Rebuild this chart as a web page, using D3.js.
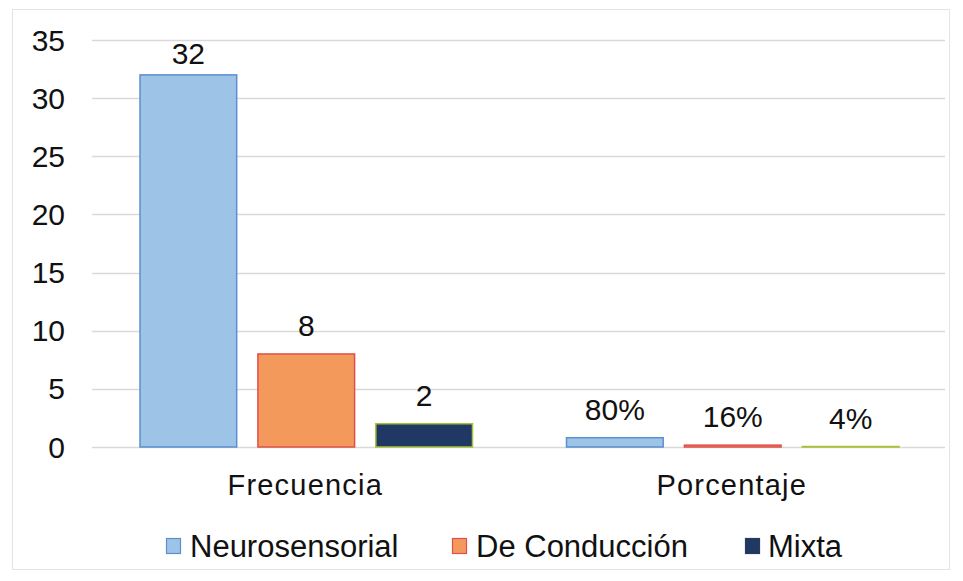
<!DOCTYPE html>
<html>
<head>
<meta charset="utf-8">
<script src="https://cdn.jsdelivr.net/npm/d3@7"></script>
<style>
  body { margin: 0; background: #fff; }
  text { font-family: "Liberation Sans", Arial, sans-serif; fill: #111; }
</style>
</head>
<body>
<div id="chart"></div>
<script>
// Data
const categories = ["Frecuencia", "Porcentaje"]
const seriesNames = ["Neurosensorial", "De Conducción", "Mixta"]
const frecuencia = [32, 8, 2]
const porcentaje = [0.80, 0.16, 0.04]
const porcentajeLabels = ["80%", "16%", "4%"]
const yTicks = [0, 5, 10, 15, 20, 25, 30, 35]

const WIDTH = 963, HEIGHT = 581
const PLOT = {LEFT: 92, RIGHT: 945, TOP: 40, BOTTOM: 447}
const FILL = ["#9dc3e6", "#f4995c", "#203864"]
const STROKE = ["#5b8fd0", "#e0504a", "#a9c03a"]

const rows = [
  {cat: "Frecuencia", values: frecuencia, labels: frecuencia.map(String)},
  {cat: "Porcentaje", values: porcentaje, labels: porcentajeLabels}
]

const svg = d3.select("#chart").append("svg")
  .attr("width", WIDTH)
  .attr("height", HEIGHT)

// outer frame
svg.append("rect")
  .attr("x", 12.5).attr("y", 9.5)
  .attr("width", 937).attr("height", 560)
  .attr("fill", "none").attr("stroke", "#e4e4e4")

const x0 = d3.scaleBand().domain(categories).range([PLOT.LEFT, PLOT.RIGHT])
const x1 = d3.scaleBand().domain(seriesNames).range([48, x0.bandwidth() - 46]).paddingInner(0.18)
const y = d3.scaleLinear().domain([0, 35]).range([PLOT.BOTTOM, PLOT.TOP])

// gridlines
svg.append("g")
  .selectAll("line")
  .data(yTicks)
  .join("line")
    .attr("x1", PLOT.LEFT).attr("x2", PLOT.RIGHT)
    .attr("y1", d => Math.round(y(d)) + 0.5).attr("y2", d => Math.round(y(d)) + 0.5)
    .attr("stroke", "#d9d9d9").attr("stroke-width", 1.3)

// y tick labels
svg.append("g")
  .selectAll("text")
  .data(yTicks)
  .join("text")
    .attr("x", 65).attr("y", d => y(d))
    .attr("dy", "0.35em")
    .attr("text-anchor", "end")
    .style("font-size", "30px")
    .text(d => d)

// bars
const groups = svg.append("g")
  .selectAll("g")
  .data(rows)
  .join("g")
    .attr("transform", d => `translate(${x0(d.cat)},0)`)

const items = d => d.values.map((v, i) => ({v, i, label: d.labels[i]}))

groups.selectAll("rect")
  .data(items)
  .join("rect")
    .attr("x", d => x1(seriesNames[d.i]))
    .attr("y", d => y(d.v))
    .attr("width", x1.bandwidth())
    .attr("height", d => y(0) - y(d.v))
    .attr("fill", d => FILL[d.i])
    .attr("stroke", d => STROKE[d.i])
    .attr("stroke-width", 1.5)

// data labels, kept inside the plot area at the top
groups.selectAll("text.lbl")
  .data(items)
  .join("text")
    .attr("class", "lbl")
    .attr("x", d => x1(seriesNames[d.i]) + x1.bandwidth() / 2)
    .attr("y", d => Math.max(y(d.v) - 18, 64))
    .attr("text-anchor", "middle")
    .style("font-size", "30px")
    .text(d => d.label)

// category labels
svg.append("g")
  .selectAll("text")
  .data(categories)
  .join("text")
    .attr("x", d => x0(d) + x0.bandwidth() / 2)
    .attr("y", 495)
    .attr("text-anchor", "middle")
    .style("font-size", "29px")
    .style("letter-spacing", "1.2px")
    .text(d => d)

// legend
const legendX = [166, 452, 745]
const legend = svg.append("g")
  .selectAll("g")
  .data(seriesNames)
  .join("g")
    .attr("transform", (d, i) => `translate(${legendX[i]},546)`)

legend.append("rect")
  .attr("x", 0.5).attr("y", -7.5)
  .attr("width", 14).attr("height", 15)
  .attr("fill", (d, i) => FILL[i])
  .attr("stroke", (d, i) => i === 2 ? "#2a3a5a" : STROKE[i])
  .attr("stroke-width", 1.2)

legend.append("text")
  .attr("x", (d, i) => i === 2 ? 23 : 24).attr("y", 11)
  .style("font-size", "31px")
  .text(d => d)
</script>
</body>
</html>
